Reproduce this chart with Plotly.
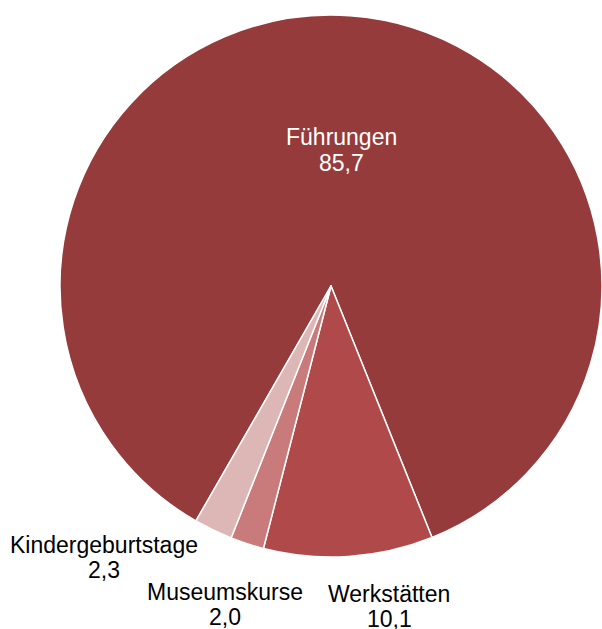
import plotly.graph_objects as go

labels = ["Führungen", "Werkstätten", "Museumskurse", "Kindergeburtstage"]
values = [85.7, 10.1, 2.0, 2.3]
colors = ["#953B3B", "#B04A4A", "#C87B7A", "#DDB6B6"]

W, H = 602, 629

# label anchor positions in pixels (style only): (x, label-line y, value-line y)
label_pos = [(342, 137, 163), (389, 594, 619), (225, 592, 617), (104, 545, 570)]
label_colors = ["white", "#000000", "#000000", "#000000"]
FONT = "Liberation Sans, Arial, sans-serif"
FS = 23


def px_x(x):
    return x / W


def px_y(y):
    return 1 - y / H


fig = go.Figure(go.Pie(
    labels=labels,
    values=values,
    sort=False,
    direction="clockwise",
    rotation=209.9,
    marker=dict(colors=colors, line=dict(color="white", width=1.5)),
    textinfo="none",
    hoverinfo="label+value",
    showlegend=False,
    domain=dict(x=[px_x(60), px_x(602)], y=[px_y(557), px_y(15)]),
))

annotations = []
for lab, val, (px, py1, py2), col in zip(labels, values, label_pos, label_colors):
    for txt, py in ((lab, py1), (f"{val:.1f}".replace(".", ","), py2)):
        annotations.append(dict(
            x=px_x(px), y=px_y(py), xref="paper", yref="paper",
            text=txt, showarrow=False, xanchor="center", yanchor="middle",
            font=dict(family=FONT, size=FS, color=col),
        ))

fig.update_layout(
    width=W, height=H,
    margin=dict(l=0, r=0, t=0, b=0),
    paper_bgcolor="white",
    plot_bgcolor="white",
    separators=",.",
    annotations=annotations,
)

fig.write_html(
    "out.html",
    config={"displayModeBar": False},
    post_script="document.body.style.margin='0';document.body.style.overflow='hidden';",
)
